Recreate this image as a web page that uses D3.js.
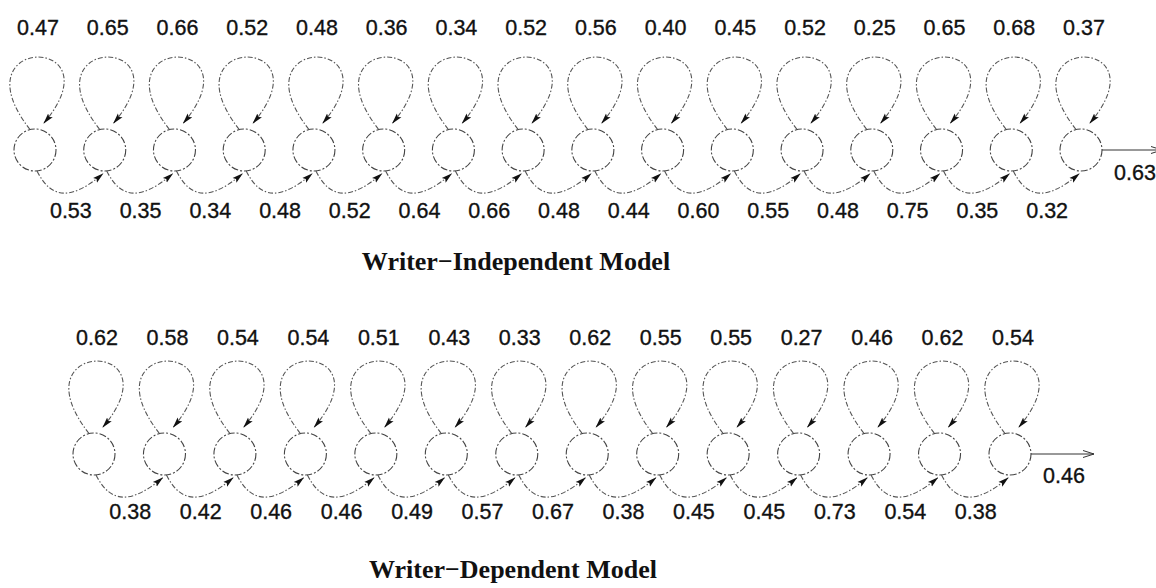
<!DOCTYPE html>
<html>
<head>
<meta charset="utf-8">
<script src="https://cdn.jsdelivr.net/npm/d3@7"></script>
<style>
  body { margin: 0; background: #fff; }
  .lbl { font-family: "Liberation Sans", Arial, Helvetica, sans-serif; font-size: 21.5px; fill: #111; stroke: #111; stroke-width: 0.35; }
  .ttl { font-family: "Liberation Serif", "Times New Roman", serif; font-size: 26px; font-weight: bold; fill: #111; }
  .edge { fill: none; stroke: #555; stroke-width: 1.1; stroke-dasharray: 5 2 1.5 2; }
  .state { fill: none; stroke: #444; stroke-width: 1.1; stroke-dasharray: 7 2 2 2; }
</style>
</head>
<body>
<svg width="1156" height="588"></svg>
<script>
// self-transition probabilities (above each state)
var indepSelf = [0.47, 0.65, 0.66, 0.52, 0.48, 0.36, 0.34, 0.52, 0.56, 0.40, 0.45, 0.52, 0.25, 0.65, 0.68, 0.37];
// forward transition probabilities (last one is the exit)
var indepNext = [0.53, 0.35, 0.34, 0.48, 0.52, 0.64, 0.66, 0.48, 0.44, 0.60, 0.55, 0.48, 0.75, 0.35, 0.32, 0.63];

var depSelf = [0.62, 0.58, 0.54, 0.54, 0.51, 0.43, 0.33, 0.62, 0.55, 0.55, 0.27, 0.46, 0.62, 0.54];
var depNext = [0.38, 0.42, 0.46, 0.46, 0.49, 0.57, 0.67, 0.38, 0.45, 0.45, 0.73, 0.54, 0.38, 0.46];

var titles = ["Writer\u2212Independent Model", "Writer\u2212Dependent Model"];

var svg = d3.select("svg"),
    width = +svg.attr("width"),
    height = +svg.attr("height");

var defs = svg.append("defs");

// small filled arrow used on loops and forward arcs
defs.append("marker")
    .attr("id", "head")
    .attr("viewBox", "0 -4 11 8")
    .attr("refX", 10).attr("refY", 0)
    .attr("markerUnits", "userSpaceOnUse")
    .attr("markerWidth", 11).attr("markerHeight", 8)
    .attr("orient", "auto")
  .append("path")
    .attr("d", "M0,-3L11,0L0,3L2,0Z")
    .attr("fill", "#111");

// open arrow for the exit edge
defs.append("marker")
    .attr("id", "open")
    .attr("viewBox", "0 -5 12 10")
    .attr("refX", 11).attr("refY", 0)
    .attr("markerUnits", "userSpaceOnUse")
    .attr("markerWidth", 12).attr("markerHeight", 10)
    .attr("orient", "auto")
  .append("path")
    .attr("d", "M0,-3.5L11,0L0,3.5")
    .attr("fill", "none")
    .attr("stroke", "#333")
    .attr("stroke-width", 1);

var r = 21;

function drawChain(self, next, xRange, o) {
    var n = self.length;
    var x = d3.scaleLinear().domain([0, n - 1]).range(xRange);
    var cy = o.cy;
    var g = svg.append("g");

    // self loops
    g.selectAll("path.loop")
        .data(self)
      .enter().append("path")
        .attr("class", "edge loop")
        .attr("marker-end", "url(#head)")
        .attr("d", function (d, i) {
            var cx = x(i), p = d3.path();
            p.moveTo(cx - 5, cy - r + 0.5);
            p.bezierCurveTo(cx - 80, cy - r - 95, cx + 84, cy - r - 95, cx + 9, cy - r - 6);
            return p.toString();
        });

    // forward transitions
    g.selectAll("path.fwd")
        .data(next.slice(0, n - 1))
      .enter().append("path")
        .attr("class", "edge fwd")
        .attr("marker-end", "url(#head)")
        .attr("d", function (d, i) {
            var x1 = x(i) + 2, x2 = x(i + 1) - 2, p = d3.path();
            p.moveTo(x1, cy + r);
            p.bezierCurveTo(x1 + 15, cy + r + 30, x2 - 30, cy + r + 28, x2, cy + r + 3);
            return p.toString();
        });

    // states
    g.selectAll("circle")
        .data(self)
      .enter().append("circle")
        .attr("class", "state")
        .attr("cx", function (d, i) { return x(i); })
        .attr("cy", cy)
        .attr("r", r);

    // exit edge
    var last = x(n - 1);
    g.append("line")
        .attr("x1", last + r).attr("y1", cy)
        .attr("x2", last + r + o.exitLen).attr("y2", cy)
        .attr("stroke", "#333").attr("stroke-width", 1)
        .attr("marker-end", "url(#open)");

    g.append("text")
        .attr("class", "lbl")
        .attr("x", last + r + 12)
        .attr("y", o.exitY)
        .text(next[n - 1].toFixed(2));

    // labels
    g.selectAll("text.self")
        .data(self)
      .enter().append("text")
        .attr("class", "lbl self")
        .attr("text-anchor", "middle")
        .attr("x", function (d, i) { return x(i) + 3; })
        .attr("y", o.selfY)
        .text(function (d) { return d.toFixed(2); });

    g.selectAll("text.fwd")
        .data(next.slice(0, n - 1))
      .enter().append("text")
        .attr("class", "lbl fwd")
        .attr("text-anchor", "middle")
        .attr("x", function (d, i) { return (x(i) + x(i + 1)) / 2 + 1; })
        .attr("y", o.nextY)
        .text(function (d) { return d.toFixed(2); });

    g.append("text")
        .attr("class", "ttl")
        .attr("text-anchor", "middle")
        .attr("x", o.titleX)
        .attr("y", o.titleY)
        .text(o.title);
}

drawChain(indepSelf, indepNext, [35, 1081],
    { cy: 150, selfY: 35, nextY: 218, exitY: 180, exitLen: 60, titleX: 516, titleY: 270, title: titles[0] });

drawChain(depSelf, depNext, [94, 1010],
    { cy: 454, selfY: 345, nextY: 519, exitY: 483, exitLen: 63, titleX: 513, titleY: 578, title: titles[1] });
</script>
</body>
</html>
